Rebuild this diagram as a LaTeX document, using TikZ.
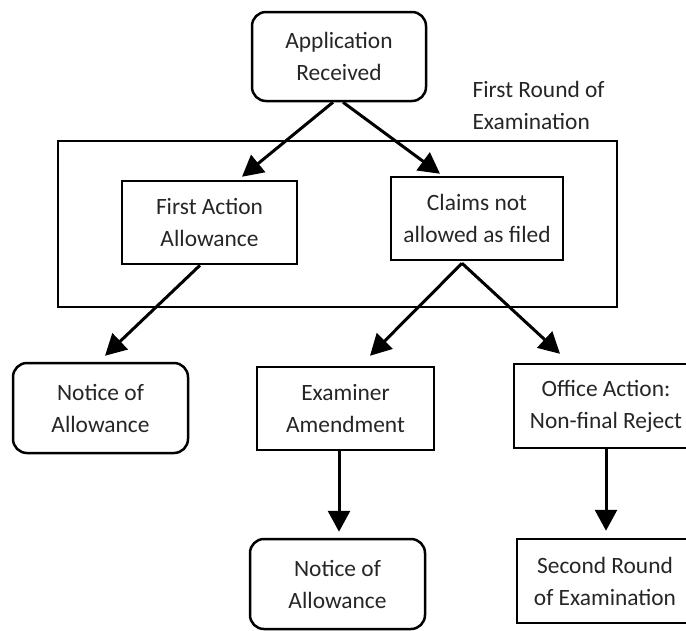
\documentclass[tikz,border=0pt]{standalone}
\usepackage{fontspec}
\setmainfont{Carlito}
\usetikzlibrary{arrows.meta,calc}
\begin{document}
\begin{tikzpicture}[x=1pt,y=-1pt,
  txt/.style={font=\fontsize{23.4}{32}\selectfont, text=black!85, align=center},
  boxnode/.style={txt, draw=black, line width=2.5pt, inner sep=0pt, minimum width=#1},
  roundbox/.style={boxnode=#1, rounded corners=14pt},
  conn/.style={line width=3pt, -{Triangle[width=22pt,length=21pt]}}
]
\useasboundingbox (0,0) rectangle (686,630);
\clip (0,0) rectangle (686,630);
\fill[white] (0,0) rectangle (686,630);

% outer frame
\node[draw=black, line width=2.5pt, minimum width=559pt, minimum height=166pt, inner sep=0pt] (frame) at (337.5,224) {};

\node[roundbox=174pt, minimum height=89pt] (app) at (339,56.5) {Application\\Received};
\node[txt, anchor=west, align=left] (lbl) at (469,105) {First Round of\\Examination};

\node[boxnode=175pt, minimum height=83pt] (faa) at (209.5,222.5) {First Action\\Allowance};
\node[boxnode=172pt, minimum height=83pt] (claims) at (477,218.5) {Claims not\\allowed as filed};

\node[roundbox=175pt, minimum height=90pt] (not1) at (100.5,408) {Notice of\\Allowance};
\node[boxnode=177pt, minimum height=83pt] (exam) at (345.5,408.5) {Examiner\\Amendment};
\node[boxnode=184pt, minimum height=84pt] (office) at (606,406) {Office Action:\\Non-final Reject};

\node[roundbox=175pt, minimum height=90pt] (not2) at (337.5,584) {Notice of\\Allowance};
\node[boxnode=176pt, minimum height=84pt] (second) at (605,581) {Second Round\\of Examination};

% connectors
\draw[conn] ($(app.south)+(-6,0)$) -- ($(faa.north)+(32.5,-3)$);
\draw[conn] ($(app.south)+(4,0)$) -- ($(claims.north)+(-37,-2)$);
\draw[conn] ($(faa.south)+(-9.5,0)$) -- ($(not1.north)+(4.5,-6)$);
\draw[conn] ($(claims.south)+(-15,2)$) -- ($(exam.north)+(24.5,-10)$);
\draw[conn] ($(claims.south)+(-15,2)$) -- ($(office.north)+(-46,-9)$);
\draw[conn] ($(exam.south)+(-6.5,0)$) -- ($(not2.north)+(1.5,-6)$);
\draw[conn] (office.south) -- ($(second.north)+(1,-7)$);
\end{tikzpicture}
\end{document}
